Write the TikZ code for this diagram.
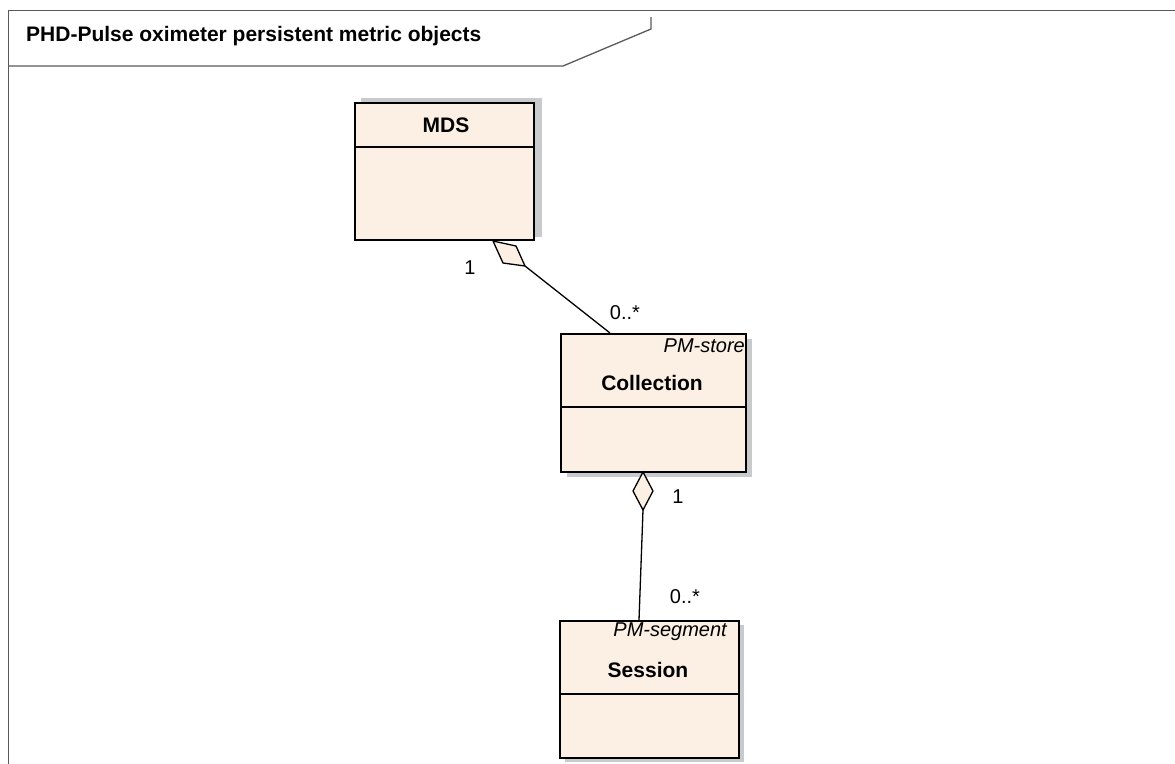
\documentclass[tikz,border=0pt]{standalone}
\usepackage{fontspec}
\setmainfont{Liberation Sans}
\begin{document}
\begin{tikzpicture}[x=1pt,y=-1pt,
  classbox/.style={draw=black, line width=1.5pt, fill=boxfill, inner sep=0pt, anchor=north west},
  shadowbox/.style={fill=shadowgray, draw=none, inner sep=0pt, anchor=north west},
  clsname/.style={font=\fontsize{21}{25}\selectfont\bfseries, inner sep=0pt},
  stereo/.style={font=\fontsize{20}{24}\selectfont\itshape, inner sep=0pt},
  mult/.style={font=\fontsize{20}{24}\selectfont, inner sep=0pt},
  assoc/.style={draw=black, line width=1.3pt},
  diam/.style={draw=black, line width=1.3pt, fill=boxfill, line join=miter},
  framepen/.style={draw=framegray, line width=1.3pt}
]
\definecolor{boxfill}{HTML}{FBF0E3}
\definecolor{shadowgray}{HTML}{C9CACC}
\definecolor{framegray}{HTML}{5A5A5A}
\useasboundingbox (0,0) rectangle (1175,763);
\fill[white] (0,0) rectangle (1175,763);

% frame
\draw[framepen] (1180,10.5) -- (8.5,10.5) -- (8.5,770);
\coordinate (t1) at (8.5,66);
\coordinate (t2) at (563,66);
\coordinate (t3) at (651,29);
\coordinate (t4) at (651,17);
\draw[framepen] (t1) -- (t2) -- (t3) -- (t4);
\node[anchor=base west, inner sep=0pt, font=\fontsize{21}{25}\selectfont\bfseries] (title) at (26,41) {PHD-Pulse oximeter persistent metric objects};

% shadows
\node[shadowbox, minimum width=181pt, minimum height=139pt] (mdsSh) at (361,98) {};
\node[shadowbox, minimum width=185pt, minimum height=138pt] (colSh) at (567,339) {};
\node[shadowbox, minimum width=179pt, minimum height=137pt] (sesSh) at (565,625) {};

% MDS
\node[classbox, minimum width=179pt, minimum height=137pt] (mds) at (354,102) {};
\draw[line width=1.3pt] ([yshift=-45pt]mds.north west) -- ++(181,0);
\node[clsname] (mdsName) at (446,125) {MDS};

% Collection
\node[classbox, minimum width=185pt, minimum height=138pt] (col) at (560,333) {};
\draw[line width=1.3pt] ([yshift=-74pt]col.north west) -- ([yshift=-74pt]col.north east);
\node[stereo, anchor=east] (colSt) at (745,346) {PM-store};
\node[clsname] (colName) at (652,383) {Collection};

% Session
\node[classbox, minimum width=179pt, minimum height=137pt] (ses) at (559,620) {};
\draw[line width=1.3pt] ([yshift=-74pt]ses.north west) -- ([yshift=-74pt]ses.north east);
\node[stereo, anchor=east] (sesSt) at (727,632) {PM-segment};
\node[clsname] (sesName) at (648,670) {Session};

% MDS - Collection aggregation
\coordinate (dA) at (493,241);
\coordinate (dB) at (516,246);
\coordinate (dC) at (525,266);
\coordinate (dD) at (503,263);
\coordinate (colTop) at (610,333);
\draw[assoc] (dC) -- (colTop);
\draw[diam] (dA) -- (dB) -- (dC) -- (dD) -- cycle;
\node[mult] (m1) at (470,268) {1};
\node[mult] (m2) at (625,313) {0..*};

% Collection - Session aggregation
\coordinate (eA) at (643,472);
\coordinate (eB) at (653,491);
\coordinate (eC) at (643,510);
\coordinate (eD) at (633,491);
\coordinate (sesTop) at (639,620);
\draw[assoc] (eC) -- (sesTop);
\draw[diam] (eA) -- (eB) -- (eC) -- (eD) -- cycle;
\node[mult] (m3) at (678,497) {1};
\node[mult] (m4) at (685,597) {0..*};
\end{tikzpicture}
\end{document}
